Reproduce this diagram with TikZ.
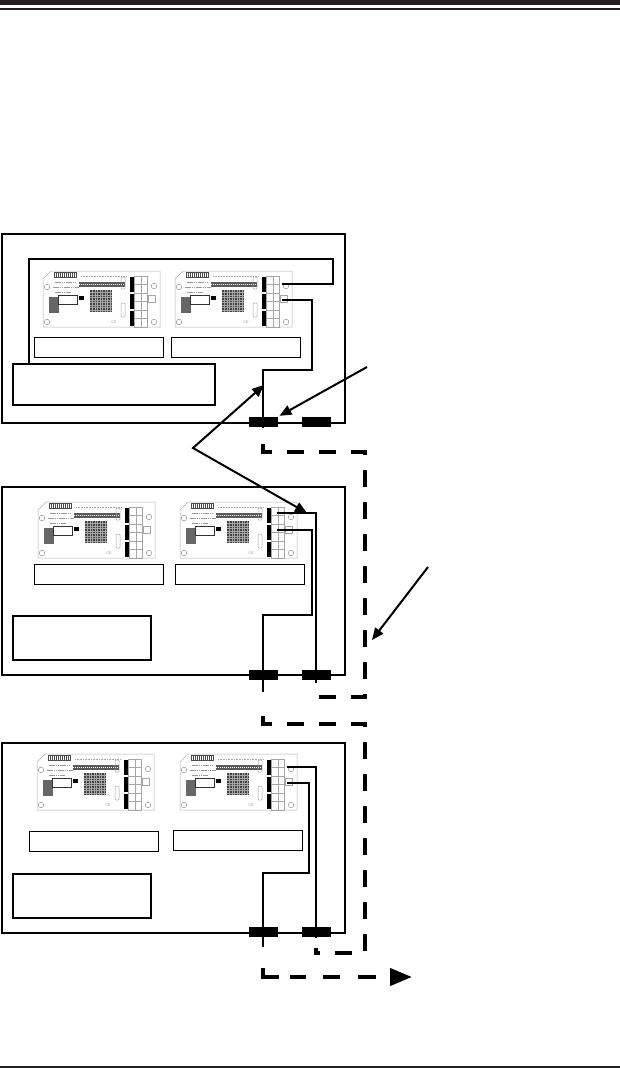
\documentclass[tikz,border=0pt]{standalone}
\usepackage{tikz}
\usetikzlibrary{arrows.meta}

\definecolor{ink}{HTML}{231F20}

\tikzset{
  chassis/.style={draw, line width=2pt, anchor=north west, inner sep=0pt},
  infobox/.style={draw, line width=2pt, anchor=north west, inner sep=0pt},
  pcblabel/.style={draw, line width=0.9pt, anchor=north west, inner sep=0pt, minimum width=129pt, minimum height=20pt},
  jack/.style={fill=black, inner sep=0pt, minimum width=29pt, minimum height=10pt},
  wire/.style={line width=1.8pt},
  cable/.style={line width=4pt, dash pattern=on 17pt off 15pt},
  callout/.style={line width=2pt, -{Triangle[length=12pt,width=10pt]}},
}

% expander board, #1 name, (#2,#3) top left corner
\newcommand{\pcb}[3]{%
  \begin{scope}[shift={(#2,#3)}]
    \draw[gray!60, line width=0.5pt, fill=white] (0,8) -- (8,0) -- (117,0) -- (117,56) -- (0,56) -- cycle;
    \fill[black!70] (11,1) rectangle (34,7);
    \foreach \k in {12,14,...,33} \draw[white, line width=0.5pt] (\k,2) -- (\k,6);
    \draw[gray!70, line width=1.2pt, dash pattern=on 1pt off 0.6pt] (38,5.5) -- (84,5.5);
    \fill[black!65] (36,11) rectangle (82,16);
    \draw[white, line width=0.5pt, dash pattern=on 1pt off 1pt] (36,13.5) -- (82,13.5);
    \draw[gray!80, line width=0.8pt, dash pattern=on 1.5pt off 0.7pt] (12,11) -- (34,11) (10,16) -- (36,16) (12,21) -- (28,21);
    \fill[black!60] (6,26) rectangle (16,42);
    \draw[black!80, line width=0.8pt, fill=white] (15,24) rectangle (34,33);
    \fill[black] (36,25) rectangle (41,29);
    \fill[black!75] (47,19) rectangle (69,41);
    \foreach \k in {49.5,52,...,67} \draw[black!35, line width=0.3pt] (\k,19) -- (\k,41);
    \foreach \k in {21.5,24,...,40} \draw[black!35, line width=0.3pt] (47,\k) -- (69,\k);
    \foreach \k in {6,23,40} {
      \fill[black] (87,\k) rectangle (91,\k+15);
      \draw[gray!70, line width=0.5pt] (91,\k-1) rectangle (104,\k+16) (91,\k+7) -- (104,\k+7) (98,\k-1) -- (98,\k+16);
    }
    \draw[gray!70, line width=0.5pt] (105,24) rectangle (112,31);
    \draw[gray!70, line width=0.5pt, rounded corners=1pt] (78,6) rectangle (82,18) (78,32) rectangle (82,46);
    \foreach \p in {(4,16),(4,51),(111,15),(111,51)} \draw[gray!80, line width=0.5pt] \p circle (2.8pt);
    \node[font=\sffamily\fontsize{4pt}{4pt}\selectfont, text=gray!80, inner sep=0pt] (#1-ce) at (71,51) {CE};
    \coordinate (#1-p1) at (107,13);
    \coordinate (#1-p2) at (107,29);
  \end{scope}}

\begin{document}
\begin{tikzpicture}[x=1pt, y=-1pt]

  \useasboundingbox (0,0) rectangle (620,1068);

  % page rules
  \fill[ink] (0,0) rectangle (620,5);
  \fill[ink] (0,8) rectangle (620,10);
  \fill[ink] (0,1065.5) rectangle (620,1068);

  % top unit
  \node[chassis, minimum width=343pt, minimum height=189pt] (top) at (1,233) {};
  \pcb{t1}{43}{271}
  \pcb{t2}{175}{271}
  \node[pcblabel] (t1lab) at (34,337) {};
  \node[pcblabel] (t2lab) at (171,337) {};
  \node[infobox, minimum width=202pt, minimum height=41pt] (tinfo) at (12,363) {};
  \node[jack] (tcl) at (263,422) {};
  \node[jack] (tcr) at (316,422) {};
  \draw[wire] (t2-p1) -- ++(51,0) -- ++(0,-25) -| ([xshift=17pt]tinfo.north west);
  \draw[wire] (t2-p2) -- ++(30,0) -- ++(0,70) -| (tcl.center) -- ++(0,6);

  % middle unit
  \node[chassis, minimum width=343pt, minimum height=188pt] (mid) at (1,486) {};
  \pcb{m1}{38}{502}
  \pcb{m2}{180}{502}
  \node[pcblabel] (m1lab) at (34,564) {};
  \node[pcblabel] (m2lab) at (175,564) {};
  \node[infobox, minimum width=138pt, minimum height=44pt] (minfo) at (12,615) {};
  \node[jack] (mcl) at (263,675) {};
  \node[jack] (mcr) at (316,675) {};
  \draw[wire] ([xshift=-10pt,yshift=2pt]m2-p1) -| ([yshift=-8pt]mcr.center);
  \draw[wire] ([xshift=-10pt,yshift=1pt]m2-p2) -- ++(35,0) -- ++(0,85) -| ([yshift=-17pt]mcl.center);

  % bottom unit
  \node[chassis, minimum width=343pt, minimum height=190pt] (bot) at (1,742) {};
  \pcb{b1}{37}{754}
  \pcb{b2}{180}{754}
  \node[pcblabel] (b1lab) at (29,831) {};
  \node[pcblabel] (b2lab) at (173,830) {};
  \node[infobox, minimum width=138pt, minimum height=44pt] (binfo) at (12,873) {};
  \node[jack] (bcl) at (263,932) {};
  \node[jack] (bcr) at (316,932) {};
  \draw[wire] (b2-p1) -| ([yshift=-6pt]bcr.center);
  \draw[wire] (b2-p2) -- ++(22,0) -- ++(0,90) -| ([yshift=-15pt]bcl.center);

  % external cables
  \draw[cable] ([yshift=-22pt]tcl.center) -- ++(0,8) -- ++(102,0) -- ++(0,245) -| ([yshift=-15pt]mcr.center);
  \draw[cable] ([yshift=-41pt]mcl.center) -- ++(0,8) -- ++(102,0) -- ++(0,229) -| ([yshift=-16pt]bcr.center);
  \coordinate (out) at (412,977);
  \draw[cable, dash pattern=on 25pt off 11pt on 16pt off 17pt on 17pt off 18pt on 18pt off 30pt,
        -{Triangle[length=22pt,width=17pt]}] ([yshift=-36pt]bcl.center) |- (out);

  % callouts
  \coordinate (a1s) at (367,367);
  \draw[callout, shorten >=2pt] (a1s) -- (tcl.north east);
  \coordinate (vx) at (193,448);
  \coordinate (vt1) at (264,385);
  \coordinate (vt2) at (307,513);
  \draw[callout, {Triangle[length=12pt,width=10pt]}-{Triangle[length=12pt,width=10pt]}] (vt1) -- (vx) -- (vt2);
  \coordinate (a2s) at (428,567);
  \coordinate (a2t) at (372,640);
  \draw[callout] (a2s) -- (a2t);

\end{tikzpicture}
\end{document}
